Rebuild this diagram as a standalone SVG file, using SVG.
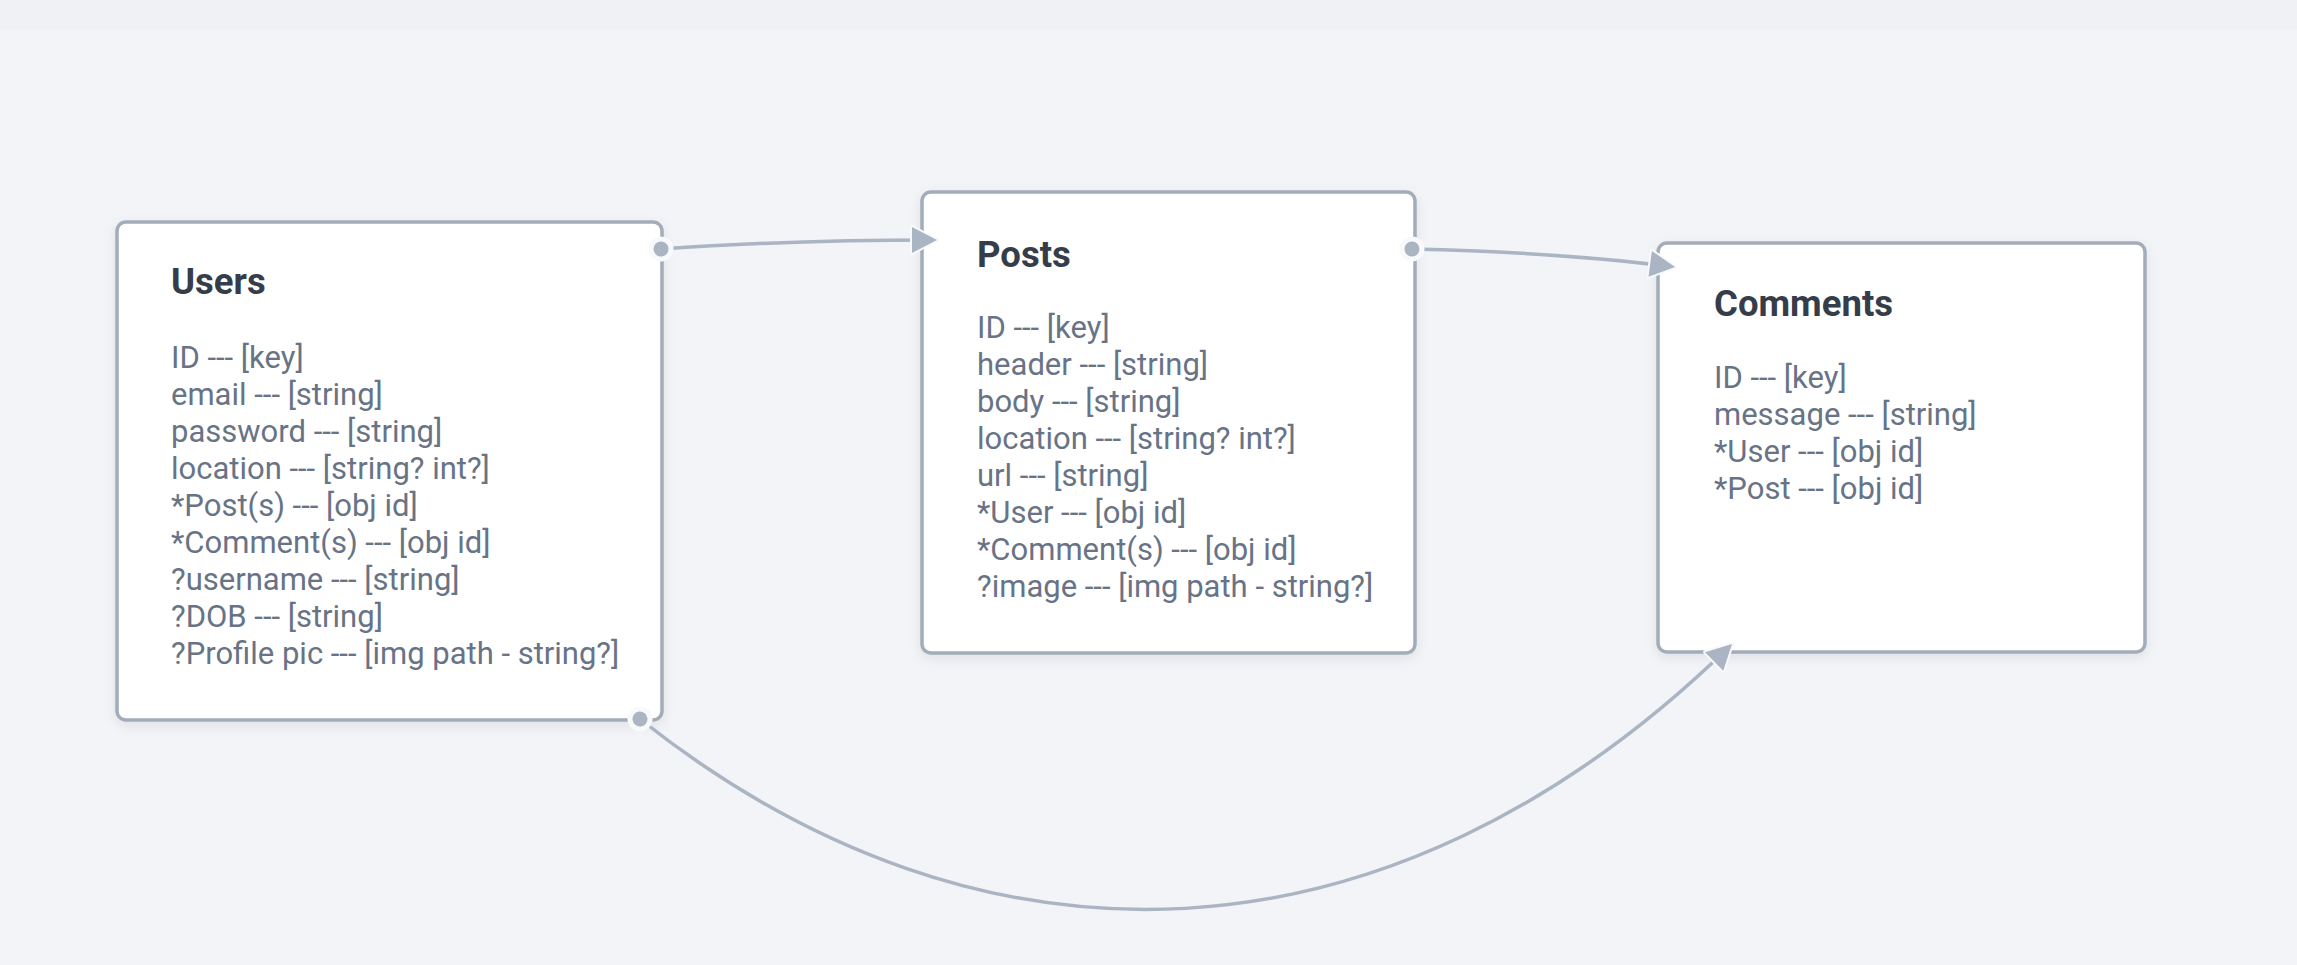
<svg xmlns="http://www.w3.org/2000/svg" width="2297" height="965" viewBox="0 0 2297 965">
  <style>
    .box { fill: #ffffff; stroke: #a3acb9; stroke-width: 3.5; }
    .title { font-family: Roboto, "Liberation Sans", sans-serif; font-size: 36.5px; font-weight: 700; fill: #363d4a; }
    .body { font-family: Roboto, "Liberation Sans", sans-serif; font-size: 31px; fill: #687386; }
    .edge { fill: none; stroke: #aab4c3; stroke-width: 3.5; }
  </style>
  <defs>
    <filter id="shadow" x="-10%" y="-10%" width="120%" height="130%">
      <feDropShadow dx="0" dy="4" stdDeviation="6" flood-color="#1f2937" flood-opacity="0.08"/>
    </filter>
    <marker id="arrow" markerUnits="userSpaceOnUse" markerWidth="40" markerHeight="40" viewBox="-8 -7 40 40" refX="25" refY="13" orient="auto">
      <path d="M0,0 L25,13 L0,26 z" fill="#aab4c3" stroke="#f8f9fb" stroke-width="4" stroke-linejoin="round" paint-order="stroke"/>
    </marker>
    <marker id="dot" markerUnits="userSpaceOnUse" markerWidth="30" markerHeight="30" viewBox="-15 -15 30 30" refX="0" refY="0" orient="auto">
      <circle cx="0" cy="0" r="12.5" fill="#f8f9fb"/>
      <circle cx="0" cy="0" r="7.5" fill="#aab4c3"/>
    </marker>
  </defs>
  <rect x="0" y="0" width="2297" height="965" fill="#f2f4f7"/>
  <rect x="0" y="0" width="2297" height="30" fill="#eff1f4"/>

  <g id="users">
    <rect class="box" x="117" y="222" width="545" height="498" rx="9" filter="url(#shadow)"/>
    <text class="title" x="171" y="294">Users</text>
    <text class="body" x="171" y="368">ID --- [key]</text>
    <text class="body" x="171" y="405">email --- [string]</text>
    <text class="body" x="171" y="442">password --- [string]</text>
    <text class="body" x="171" y="479">location --- [string? int?]</text>
    <text class="body" x="171" y="516">*Post(s) --- [obj id]</text>
    <text class="body" x="171" y="553">*Comment(s) --- [obj id]</text>
    <text class="body" x="171" y="590">?username --- [string]</text>
    <text class="body" x="171" y="627">?DOB --- [string]</text>
    <text class="body" x="171" y="664">?Profile pic --- [img path - string?]</text>
  </g>

  <g id="posts">
    <rect class="box" x="922" y="192" width="493" height="461" rx="9" filter="url(#shadow)"/>
    <text class="title" x="977" y="267">Posts</text>
    <text class="body" x="977" y="338">ID --- [key]</text>
    <text class="body" x="977" y="375">header --- [string]</text>
    <text class="body" x="977" y="412">body --- [string]</text>
    <text class="body" x="977" y="449">location --- [string? int?]</text>
    <text class="body" x="977" y="486">url --- [string]</text>
    <text class="body" x="977" y="523">*User --- [obj id]</text>
    <text class="body" x="977" y="560">*Comment(s) --- [obj id]</text>
    <text class="body" x="977" y="597">?image --- [img path - string?]</text>
  </g>

  <g id="comments">
    <rect class="box" x="1658" y="243" width="487" height="409" rx="9" filter="url(#shadow)"/>
    <text class="title" x="1714" y="316">Comments</text>
    <text class="body" x="1714" y="388">ID --- [key]</text>
    <text class="body" x="1714" y="425">message --- [string]</text>
    <text class="body" x="1714" y="462">*User --- [obj id]</text>
    <text class="body" x="1714" y="499">*Post --- [obj id]</text>
  </g>

  <g id="connectors">
    <path class="edge" d="M661,249 C760,242 850,240 937,240" marker-start="url(#dot)" marker-end="url(#arrow)"/>
    <path class="edge" d="M1412,249 C1500,251 1590,256 1675,267" marker-start="url(#dot)" marker-end="url(#arrow)"/>
    <path class="edge" d="M640,719 C980,989 1390,979 1732,644" marker-start="url(#dot)" marker-end="url(#arrow)"/>
  </g>
</svg>
